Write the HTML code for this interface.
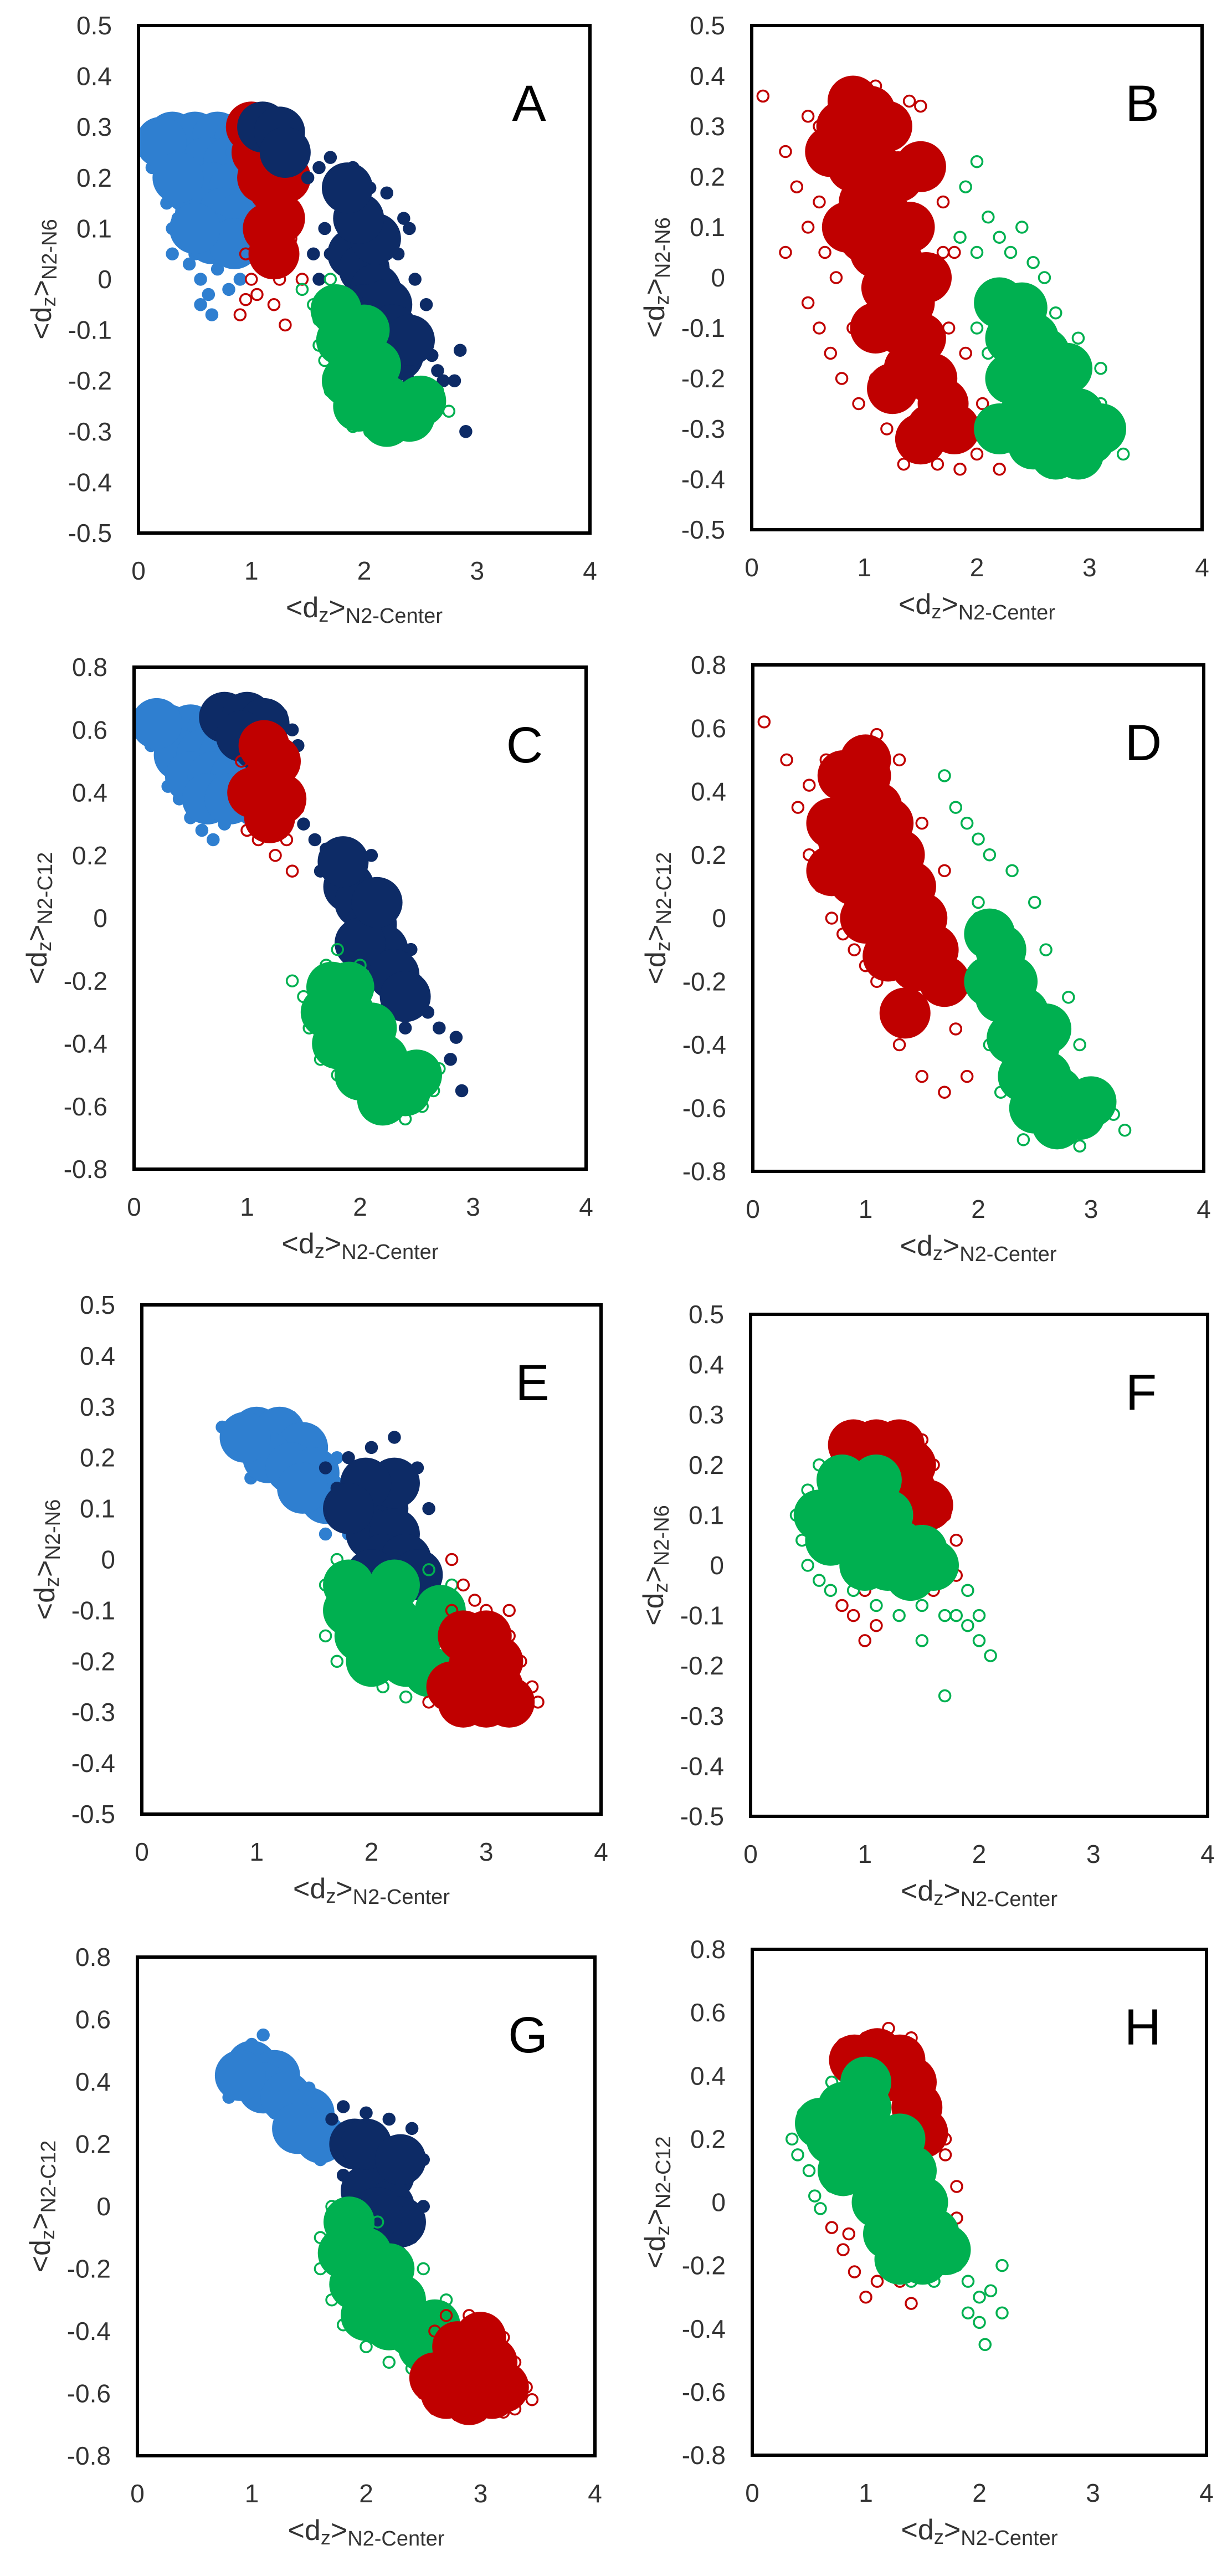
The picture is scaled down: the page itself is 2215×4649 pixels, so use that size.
<!DOCTYPE html>
<html><head><meta charset="utf-8"><style>
html,body{margin:0;padding:0;background:#fff;}
svg{display:block;font-family:"Liberation Sans",sans-serif;}
</style></head><body>
<svg id="fig" width="2215" height="4649" viewBox="0 0 2215 4649" xmlns="http://www.w3.org/2000/svg"></svg>
<script>
const xTicks=["0","1","2","3","4"];
const yTicksN6=["0.5","0.4","0.3","0.2","0.1","0","-0.1","-0.2","-0.3","-0.4","-0.5"];
const yTicksC12=["0.8","0.6","0.4","0.2","0","-0.2","-0.4","-0.6","-0.8"];
// Panel A
const A_lb_dense=[0.3,0.28,0.5,0.28,0.7,0.28,0.9,0.28,0.4,0.23,0.6,0.23,0.8,0.23,0.45,0.18,0.65,0.18,0.85,0.18,0.55,0.13,0.75,0.13,0.9,0.12,0.65,0.08,0.85,0.07,0.2,0.27,1.0,0.25,0.35,0.2,0.5,0.1];
const A_lb_pts=[0.05,0.28,0.12,0.22,0.2,0.2,0.25,0.15,0.3,0.1,0.4,0.08,0.45,0.03,0.55,0.0,0.62,-0.03,0.5,0.05,0.35,0.12,0.7,0.02,0.8,-0.02,0.9,0.0,0.15,0.3,0.3,0.05,0.6,0.1,0.55,-0.05,0.65,-0.07];
const A_red_dense=[1.0,0.3,1.15,0.28,1.25,0.25,1.1,0.2,1.2,0.18,1.25,0.12,1.15,0.1,1.3,0.2,1.05,0.25,1.2,0.05];
const A_red_pts=[0.9,0.3,1.35,0.22,1.38,0.12,1.3,0.05,1.1,0.02,1.0,0.0,0.95,-0.04,1.05,-0.03,1.2,-0.05,0.9,-0.07,1.3,-0.09,1.25,0.0,1.45,0.0,0.95,0.05,1.4,0.28,1.4,0.17,1.35,0.08];
const A_navy_dense=[1.1,0.3,1.25,0.29,1.3,0.25,1.9,0.05,2.0,0.02,2.1,-0.02,2.0,-0.06,2.2,-0.05,2.1,0.08,2.25,-0.1,1.95,0.12,2.3,-0.15,1.85,0.18,2.4,-0.12];
const A_navy_pts=[1.5,0.2,1.6,0.22,1.7,0.24,1.8,0.2,1.9,0.22,1.75,0.15,1.65,0.1,1.85,0.15,2.05,0.18,2.2,0.17,2.4,0.1,2.45,0.0,2.55,-0.05,2.5,-0.1,2.6,-0.15,2.65,-0.18,2.7,-0.2,2.85,-0.14,2.8,-0.2,2.9,-0.3,2.4,-0.2,1.55,0.05,1.6,0.0,2.3,0.05,1.4,0.22,1.35,0.3,1.7,0.05,2.35,0.12,2.55,-0.12];
const A_green_dense=[1.8,-0.12,1.9,-0.15,2.0,-0.2,2.1,-0.22,2.2,-0.24,2.3,-0.26,2.0,-0.1,1.85,-0.2,2.1,-0.17,2.4,-0.27,2.2,-0.28,1.95,-0.25,1.75,-0.06,2.5,-0.24];
const A_green_pts=[1.45,-0.02,1.55,-0.05,1.6,-0.08,1.6,-0.13,1.7,-0.22,1.65,-0.16,1.8,-0.26,1.9,-0.29,2.05,-0.3,2.3,-0.31,2.5,-0.28,2.6,-0.25,2.75,-0.26,2.65,-0.22,1.7,0.0,2.5,-0.3];
// Panel B
const B_red_dense=[0.8,0.3,1.0,0.3,1.2,0.3,0.9,0.22,1.1,0.22,1.3,0.2,1.0,0.15,1.2,0.12,1.4,0.1,1.1,0.05,1.3,0.03,1.2,-0.02,1.4,-0.05,1.3,-0.1,1.5,-0.12,1.4,-0.18,1.6,-0.2,1.7,-0.25,1.6,-0.3,1.8,-0.3,0.9,0.35,1.5,0.22,1.0,0.08,1.55,0.0,0.7,0.25,0.85,0.1,1.1,-0.1,1.25,-0.22,1.5,-0.32,1.05,0.33];
const B_red_pts=[0.1,0.36,0.3,0.25,0.4,0.18,0.5,0.32,0.5,0.1,0.5,-0.05,0.6,-0.1,0.7,-0.15,0.75,0.0,0.8,-0.2,0.9,-0.1,0.95,-0.25,1.1,-0.2,1.2,-0.3,1.35,-0.37,1.65,-0.37,1.85,-0.38,2.0,-0.35,2.2,-0.38,1.7,0.15,1.8,0.05,1.9,-0.15,2.05,-0.25,1.4,0.35,1.5,0.34,0.3,0.05,1.1,0.38,0.6,0.3,0.6,0.15,0.65,0.05,1.7,0.05,1.75,-0.1];
const B_green_dense=[2.3,-0.2,2.5,-0.22,2.7,-0.25,2.4,-0.28,2.6,-0.3,2.8,-0.3,2.9,-0.27,2.5,-0.33,2.7,-0.35,2.3,-0.12,2.5,-0.12,2.2,-0.05,2.4,-0.06,3.0,-0.32,2.2,-0.3,2.6,-0.15,2.8,-0.18,2.9,-0.35,3.1,-0.3];
const B_green_pts=[1.9,0.18,2.0,0.23,1.85,0.08,2.0,0.05,2.1,0.12,2.2,0.08,2.3,0.05,2.5,0.03,2.6,0.0,2.7,-0.07,2.1,-0.02,3.1,-0.25,3.2,-0.3,3.3,-0.35,3.0,-0.38,2.8,-0.38,2.6,-0.38,2.1,-0.15,2.0,-0.1,2.9,-0.12,3.1,-0.18,2.4,0.1];
// Panel C
const C_lb_dense=[0.3,0.6,0.5,0.6,0.7,0.6,0.9,0.6,0.4,0.52,0.6,0.52,0.8,0.52,0.5,0.45,0.7,0.45,0.9,0.45,0.65,0.38,0.85,0.38,0.2,0.62];
const C_lb_pts=[0.05,0.62,0.15,0.55,0.25,0.5,0.3,0.42,0.4,0.38,0.5,0.32,0.6,0.28,0.7,0.25,0.8,0.3,1.0,0.32,0.35,0.6,1.0,0.4];
const C_navy_dense=[0.8,0.64,1.0,0.64,1.15,0.62,1.1,0.55,0.95,0.58,1.9,0.1,2.0,0.05,2.1,-0.02,2.2,-0.1,2.0,-0.08,2.3,-0.18,1.85,0.18,2.15,0.05,2.4,-0.25];
const C_navy_pts=[1.3,0.65,1.4,0.6,1.45,0.55,1.5,0.3,1.6,0.25,1.7,0.22,1.8,0.2,1.65,0.15,2.1,0.2,2.3,0.05,2.45,-0.1,2.5,-0.2,2.6,-0.3,2.7,-0.35,2.85,-0.38,2.8,-0.45,2.9,-0.55,2.6,-0.5,1.75,0.1,2.4,-0.35];
const C_red_dense=[1.15,0.55,1.25,0.5,1.15,0.42,1.3,0.38,1.2,0.32,1.05,0.4];
const C_red_pts=[1.4,0.48,1.45,0.35,1.35,0.25,1.1,0.25,1.0,0.28,1.25,0.2,1.4,0.15,0.95,0.5];
const C_green_dense=[1.7,-0.3,1.9,-0.3,2.1,-0.35,1.8,-0.4,2.0,-0.42,2.2,-0.45,2.1,-0.5,2.3,-0.52,2.4,-0.55,1.9,-0.22,2.2,-0.58,2.5,-0.5,1.75,-0.22,2.0,-0.5];
const C_green_pts=[1.4,-0.2,1.5,-0.25,1.6,-0.2,1.7,-0.15,1.55,-0.35,1.65,-0.45,1.8,-0.5,2.0,-0.55,2.2,-0.62,2.4,-0.64,2.55,-0.6,2.65,-0.55,2.7,-0.48,2.0,-0.15,1.8,-0.1];
// Panel D
const D_red_dense=[0.8,0.45,1.0,0.45,1.1,0.35,0.9,0.35,1.2,0.3,0.8,0.25,1.0,0.25,1.3,0.2,1.1,0.15,0.9,0.12,1.4,0.1,1.2,0.05,1.5,0.0,1.3,-0.05,1.6,-0.1,1.45,-0.15,1.7,-0.2,1.0,0.5,0.7,0.3,0.7,0.15,1.0,0.0,1.2,-0.12,1.35,-0.3];
const D_red_pts=[0.1,0.62,0.3,0.5,0.4,0.35,0.5,0.42,0.5,0.2,0.6,0.1,0.7,0.0,0.8,-0.05,0.9,-0.1,1.0,-0.15,1.1,-0.2,1.2,-0.3,1.3,-0.4,1.5,-0.5,1.7,-0.55,1.9,-0.5,1.8,-0.35,1.9,-0.2,2.0,-0.05,1.7,0.15,1.5,0.3,1.3,0.5,1.1,0.58,0.65,0.5];
const D_green_dense=[2.2,-0.1,2.3,-0.2,2.4,-0.3,2.5,-0.4,2.6,-0.5,2.7,-0.55,2.8,-0.6,2.9,-0.62,2.7,-0.65,2.5,-0.6,2.4,-0.5,2.3,-0.38,2.2,-0.25,2.1,-0.05,3.0,-0.58,2.6,-0.35,2.1,-0.2];
const D_green_pts=[1.7,0.45,1.8,0.35,1.9,0.3,2.0,0.25,2.1,0.2,2.3,0.15,2.5,0.05,2.6,-0.1,2.8,-0.25,2.9,-0.4,3.1,-0.55,3.2,-0.62,3.3,-0.67,2.0,0.05,2.1,-0.4,2.2,-0.55,2.4,-0.7,2.9,-0.72,2.0,0.0];
// Panel E
const E_lb_dense=[1.0,0.25,1.2,0.25,1.4,0.22,1.1,0.2,1.3,0.18,1.5,0.17,1.6,0.12,1.4,0.14,0.9,0.24];
const E_lb_pts=[0.8,0.26,0.9,0.22,1.0,0.28,1.3,0.28,1.5,0.25,1.7,0.2,1.2,0.15,1.7,0.08,1.8,0.05,1.6,0.05,0.7,0.26,0.95,0.16];
const E_navy_dense=[1.9,0.1,2.1,0.1,2.0,0.05,2.2,0.05,2.1,0.0,2.3,0.0,2.0,-0.03,2.2,0.15,1.95,0.15,2.4,-0.03,1.8,0.1];
const E_navy_pts=[1.6,0.18,1.7,0.14,1.8,0.2,2.0,0.22,2.2,0.24,2.4,0.18,2.5,0.1,2.5,0.0,1.8,-0.05,2.6,-0.08,2.3,-0.12,2.5,-0.18];
const E_green_dense=[1.8,-0.1,2.0,-0.1,2.2,-0.12,1.9,-0.15,2.1,-0.18,2.3,-0.2,2.4,-0.15,2.5,-0.22,2.6,-0.1,1.8,-0.05,2.2,-0.05,2.0,-0.2];
const E_green_pts=[1.6,-0.05,1.6,-0.15,1.7,-0.2,1.9,-0.23,2.1,-0.25,2.3,-0.27,2.6,-0.25,2.7,-0.2,2.7,-0.05,2.5,-0.02,1.7,0.0];
const E_red_dense=[2.7,-0.25,2.9,-0.25,3.1,-0.25,2.8,-0.28,3.0,-0.28,3.2,-0.28,2.9,-0.2,3.1,-0.2,2.8,-0.15,3.0,-0.15];
const E_red_pts=[2.6,-0.28,2.7,-0.1,2.8,-0.05,2.9,-0.08,3.0,-0.1,3.1,-0.12,3.2,-0.15,3.3,-0.2,3.4,-0.25,3.45,-0.28,3.3,-0.29,2.5,-0.28,3.2,-0.1,2.7,0.0];
// Panel F
const F_red_dense=[0.9,0.24,1.1,0.24,1.3,0.24,1.0,0.2,1.2,0.2,1.4,0.2,1.4,0.15,1.55,0.12];
const F_red_pts=[0.8,0.25,1.5,0.25,1.6,0.2,1.7,0.1,1.8,0.05,1.7,0.0,1.0,-0.05,0.9,-0.1,1.0,-0.15,1.1,-0.12,0.8,-0.08,1.3,-0.05,1.6,-0.05,1.8,-0.02];
const F_green_dense=[0.6,0.1,0.8,0.12,1.0,0.12,1.2,0.1,0.9,0.06,1.1,0.05,1.3,0.04,1.5,0.03,1.2,0.0,1.4,-0.02,0.8,0.17,1.1,0.17,0.7,0.05,1.0,0.0,1.6,0.0];
const F_green_pts=[0.4,0.1,0.45,0.05,0.5,0.15,0.5,0.0,0.6,-0.03,0.7,-0.05,0.9,-0.05,1.1,-0.08,1.3,-0.1,1.5,-0.08,1.7,-0.1,1.8,-0.1,1.9,-0.12,2.0,-0.15,2.1,-0.18,2.0,-0.1,1.7,-0.26,1.5,-0.15,1.9,-0.05,0.8,0.2,0.6,0.2];
// Panel G
const G_lb_dense=[1.0,0.45,1.2,0.42,1.1,0.38,1.3,0.35,1.5,0.3,1.4,0.25,1.6,0.22,0.9,0.42];
const G_lb_pts=[0.8,0.42,0.8,0.35,1.0,0.52,1.1,0.55,1.3,0.45,1.5,0.38,1.2,0.3,1.4,0.2,1.6,0.15,1.7,0.25];
const G_navy_dense=[1.9,0.2,2.1,0.15,2.2,0.1,2.0,0.05,2.2,0.0,2.3,-0.05,2.1,-0.02,2.0,0.2,2.3,0.15];
const G_navy_pts=[1.7,0.28,1.8,0.32,2.0,0.3,2.2,0.28,2.4,0.25,2.5,0.15,2.5,0.0,2.4,-0.1,2.3,-0.15,1.8,0.1];
const G_green_dense=[1.8,-0.15,2.0,-0.15,1.9,-0.25,2.1,-0.28,2.3,-0.3,2.2,-0.38,2.4,-0.4,2.5,-0.45,2.0,-0.35,2.6,-0.38,1.85,-0.05,2.2,-0.2];
const G_green_pts=[1.6,-0.1,1.6,-0.2,1.7,-0.3,1.8,-0.38,2.0,-0.45,2.2,-0.5,2.4,-0.52,2.6,-0.5,2.7,-0.3,2.5,-0.2,1.7,0.0,2.1,-0.05,2.8,-0.45];
const G_red_dense=[2.6,-0.55,2.8,-0.55,3.0,-0.55,2.7,-0.6,2.9,-0.62,3.1,-0.6,2.9,-0.48,3.1,-0.5,2.8,-0.45,3.0,-0.42,3.2,-0.58];
const G_red_pts=[2.5,-0.6,2.6,-0.4,2.7,-0.35,2.9,-0.35,3.1,-0.38,3.2,-0.42,3.3,-0.5,3.4,-0.58,3.45,-0.62,3.3,-0.65,2.6,-0.65,2.8,-0.67,3.0,-0.67,3.2,-0.66];
// Panel H
const H_red_dense=[0.9,0.45,1.1,0.47,1.3,0.45,1.2,0.4,1.4,0.38,1.45,0.3,1.5,0.22];
const H_red_pts=[0.8,0.5,1.0,0.52,1.2,0.55,1.4,0.52,1.6,0.28,1.7,0.15,1.8,0.05,1.8,-0.05,0.7,-0.08,0.8,-0.15,0.9,-0.22,1.0,-0.3,1.1,-0.25,0.85,-0.1,1.4,-0.32,1.3,-0.25,1.7,0.2];
const H_green_dense=[0.6,0.25,0.8,0.3,1.0,0.3,0.7,0.2,0.9,0.2,1.1,0.2,1.3,0.2,1.0,0.1,1.2,0.1,1.4,0.1,1.1,0.0,1.3,0.0,1.5,0.0,1.2,-0.1,1.4,-0.1,1.6,-0.1,1.5,-0.18,1.7,-0.15,0.8,0.1,1.0,0.38,1.3,-0.18];
const H_green_pts=[0.35,0.2,0.4,0.15,0.45,0.28,0.5,0.1,0.55,0.02,0.6,-0.02,0.7,0.38,0.7,0.05,1.8,-0.2,1.9,-0.25,2.0,-0.3,2.1,-0.28,2.2,-0.2,2.2,-0.35,2.0,-0.38,2.05,-0.45,1.9,-0.35,1.6,-0.25,1.4,-0.25,1.2,-0.22];

const COL={lb:"#2f7fd0",navy:"#0d2b66",red:"#c00000",green:"#00b050"};
const panels=[
 {id:"A",x:250,y:46,w:815,h:916,yt:"N6",s:[["lb",A_lb_dense,A_lb_pts],["red",A_red_dense,A_red_pts],["navy",A_navy_dense,A_navy_pts],["green",A_green_dense,A_green_pts]]},
 {id:"B",x:1357,y:46,w:813,h:910,yt:"N6",s:[["red",B_red_dense,B_red_pts],["green",B_green_dense,B_green_pts]]},
 {id:"C",x:242,y:1204,w:816,h:906,yt:"C12",s:[["lb",C_lb_dense,C_lb_pts],["navy",C_navy_dense,C_navy_pts],["red",C_red_dense,C_red_pts],["green",C_green_dense,C_green_pts]]},
 {id:"D",x:1359,y:1200,w:814,h:914,yt:"C12",s:[["red",D_red_dense,D_red_pts],["green",D_green_dense,D_green_pts]]},
 {id:"E",x:256,y:2355,w:829,h:919,yt:"N6",s:[["lb",E_lb_dense,E_lb_pts],["navy",E_navy_dense,E_navy_pts],["green",E_green_dense,E_green_pts],["red",E_red_dense,E_red_pts]]},
 {id:"F",x:1355,y:2372,w:825,h:906,yt:"N6",s:[["red",F_red_dense,F_red_pts],["green",F_green_dense,F_green_pts]]},
 {id:"G",x:248,y:3532,w:826,h:900,yt:"C12",s:[["lb",G_lb_dense,G_lb_pts],["navy",G_navy_dense,G_navy_pts],["green",G_green_dense,G_green_pts],["red",G_red_dense,G_red_pts]]},
 {id:"H",x:1358,y:3518,w:820,h:913,yt:"C12",s:[["red",H_red_dense,H_red_pts],["green",H_green_dense,H_green_pts]]}
];
const NS="http://www.w3.org/2000/svg";
const svg=document.getElementById("fig");
function mk(tag,attrs,parent){const e=document.createElementNS(NS,tag);for(const k in attrs)e.setAttribute(k,attrs[k]);parent.appendChild(e);return e;}
panels.forEach(p=>{
 const g=mk("g",{},svg);
 
 
 const ticks=p.yt==="N6"?yTicksN6:yTicksC12;
 const yMax=parseFloat(ticks[0]),yMin=parseFloat(ticks[ticks.length-1]);
 const sx=v=>p.x+(v-0)/4*p.w;
 const sy=v=>p.y+(yMax-v)/(yMax-yMin)*p.h;
 const cp="clip"+p.id;
 const cl=mk("clipPath",{id:cp},g);mk("rect",{x:p.x,y:p.y,width:p.w,height:p.h},cl);
 const pg=mk("g",{"clip-path":"url(#"+cp+")"},g);
 p.s.forEach(([c,dense,pts])=>{
  const sg=mk("g",{},pg);
  
  
  const open=(c==="red"||c==="green");
  for(let i=0;i<pts.length;i+=2){
   const e=mk("circle",{cx:sx(pts[i]),cy:sy(pts[i+1]),r:10,fill:open?"none":COL[c],stroke:COL[c],"stroke-width":3.5},sg);
   
   
  }
  for(let i=0;i<dense.length;i+=2){
   const e=mk("circle",{cx:sx(dense[i]),cy:sy(dense[i+1]),r:46,fill:COL[c]},sg);
   
   
  }
 });
 const fr=mk("rect",{x:p.x,y:p.y,width:p.w,height:p.h,fill:"none",stroke:"#000","stroke-width":6},g);
 
 
 ticks.forEach(t=>{
  const e=mk("text",{x:p.x-48,y:sy(parseFloat(t))+16,"text-anchor":"end","font-size":46,fill:"#333"},g);
  e.textContent=t;
  
  
 });
 xTicks.forEach(t=>{
  const e=mk("text",{x:sx(parseFloat(t)),y:p.y+p.h+84,"text-anchor":"middle","font-size":46,fill:"#333"},g);
  e.textContent=t;
  
  
 });
 const xt=mk("text",{x:p.x+p.w/2,y:p.y+p.h+152,"text-anchor":"middle","font-size":52,fill:"#333"},g);
 xt.innerHTML='&lt;d<tspan font-size="36" dy="8">z</tspan><tspan dy="-8">&gt;</tspan><tspan font-size="38" dy="10">N2-Center</tspan>';
 
 
 const cy=p.y+p.h/2;
 const yt=mk("text",{x:0,y:0,"text-anchor":"middle","font-size":52,fill:"#333",transform:"translate("+(p.x-158)+","+cy+") rotate(-90)"},g);
 yt.innerHTML='&lt;d<tspan font-size="36" dy="8">z</tspan><tspan dy="-8">&gt;</tspan><tspan font-size="38" dy="10">N2-'+p.yt+'</tspan>';
 
 
 const lt=mk("text",{x:p.x+705,y:p.y+172,"text-anchor":"middle","font-size":92,fill:"#000"},g);
 lt.textContent=p.id;
 
 
});
</script>
</body></html>
